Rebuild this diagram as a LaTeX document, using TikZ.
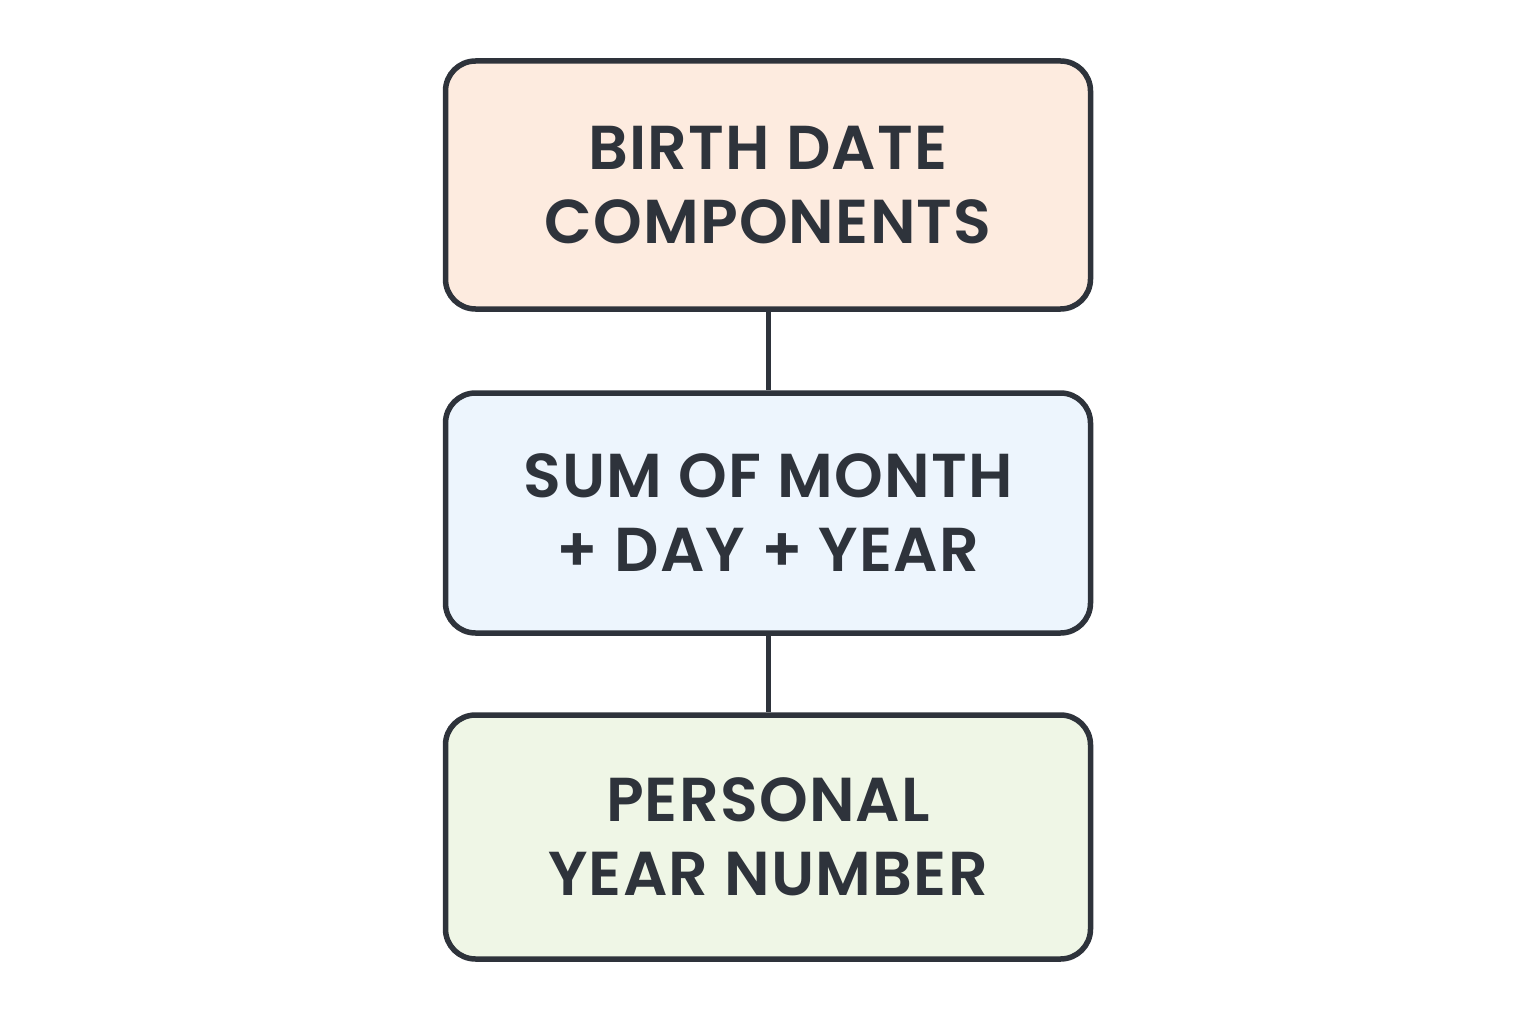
\documentclass[tikz,border=0pt]{standalone}
\usepackage{fontspec}
\setmainfont{Poppins}[UprightFont=* SemiBold, LetterSpace=2]
\definecolor{strokec}{HTML}{2E333B}
\definecolor{peach}{HTML}{FDEBDF}
\definecolor{paleblue}{HTML}{EDF5FD}
\definecolor{palegreen}{HTML}{EFF6E6}
\begin{document}
\begin{tikzpicture}[x=1pt,y=-1pt,
  box/.style={draw=strokec, line width=5.5pt, rounded corners=30pt, minimum width=645pt,
    align=center, text=strokec, font=\fontsize{62}{74}\selectfont, inner sep=0pt},
  link/.style={draw=strokec, line width=5pt}]
\useasboundingbox (0,0) rectangle (1536,1024);
\node[box, fill=peach, minimum height=248pt] (a) at (768,185) {BIRTH DATE\\COMPONENTS};
\node[box, fill=paleblue, minimum height=240pt] (b) at (768,513) {SUM OF MONTH\\+ DAY + YEAR};
\node[box, fill=palegreen, minimum height=244pt] (c) at (768,837) {PERSONAL\\YEAR NUMBER};
\draw[link] (a.south) -- (b.north);
\draw[link] (b.south) -- (c.north);
\end{tikzpicture}
\end{document}
